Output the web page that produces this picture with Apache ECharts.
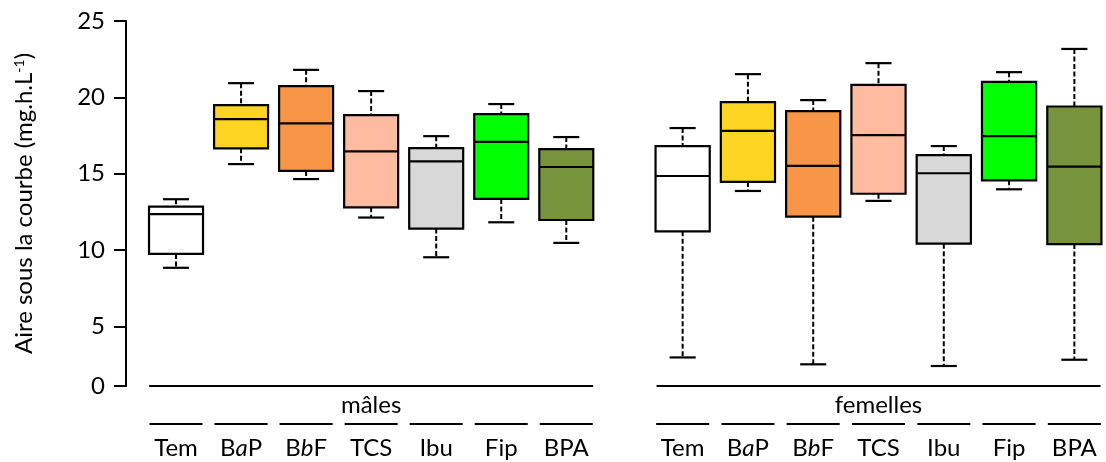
<!DOCTYPE html>
<html>
<head>
<meta charset="utf-8">
<script src="https://cdn.jsdelivr.net/npm/echarts@6/dist/echarts.min.js"></script>
<style>
html,body{margin:0;padding:0;background:#fff;}
#chart{width:1106px;height:462px;}
</style>
</head>
<body>
<div id="chart"></div>
<script>
// ---- data ----
const categories = ['Tem', 'BaP', 'BbF', 'TCS', 'Ibu', 'Fip', 'BPA'];
const groups = ['mâles', 'femelles'];
// [low whisker, Q1, median, Q3, high whisker]
const males = [
  [8.84, 9.75, 12.35, 12.84, 13.33],
  [15.63, 16.66, 18.58, 19.49, 20.93],
  [14.65, 15.18, 18.29, 20.73, 21.80],
  [12.13, 12.80, 16.46, 18.84, 20.41],
  [9.53, 11.41, 15.81, 16.68, 17.46],
  [11.82, 13.35, 17.09, 18.90, 19.56],
  [10.47, 11.97, 15.44, 16.61, 17.40]
];
const females = [
  [2.97, 11.23, 14.85, 16.81, 17.99],
  [13.87, 14.46, 17.81, 19.69, 21.52],
  [2.52, 12.19, 15.52, 19.10, 19.82],
  [13.22, 13.69, 17.53, 20.82, 22.24],
  [2.41, 10.42, 15.03, 16.22, 16.81],
  [13.98, 14.57, 17.46, 21.01, 21.65],
  [2.82, 10.39, 15.46, 19.40, 23.17]
];
const colors = ['#FFFFFF', '#FCD422', '#F79646', '#FFBBA0', '#D8D8D8', '#00FF00', '#77933C'];
const yTickValues = [1.1, 5, 10, 15, 20, 25];
const yTickLabels = ['0', '5', '10', '15', '20', '25'];
const Y_MIN = 1.1, Y_MAX = 25;

const FONT = 'Lato';
const FS = 24;

function catLabel(name) {
  let lab;
  if (name === 'BaP') lab = '{lab|B}{labi|a}{lab|P}';
  else if (name === 'BbF') lab = '{lab|B}{labi|b}{lab|F}';
  else lab = '{lab|' + name + '}';
  return '{ln|}\n' + lab;
}

function renderBox(params, api) {
  const x = api.value(0);
  const lo = api.value(1), q1 = api.value(2), med = api.value(3), q3 = api.value(4), hi = api.value(5);
  const band = api.size([1, 0])[0];
  const bw = band * 0.83, cw = band * 0.40;
  const pLo = api.coord([x, lo]), pQ1 = api.coord([x, q1]), pMed = api.coord([x, med]),
        pQ3 = api.coord([x, q3]), pHi = api.coord([x, hi]);
  const cx = pMed[0];
  const col = colors[params.dataIndex];
  const solid = {stroke: '#000', lineWidth: 2.2};
  const dashed = {stroke: '#000', lineWidth: 2, lineDash: [5, 2.5]};
  return {
    type: 'group',
    children: [
      {type: 'line', shape: {x1: cx, y1: pHi[1], x2: cx, y2: pQ3[1]}, style: dashed},
      {type: 'line', shape: {x1: cx, y1: pQ1[1], x2: cx, y2: pLo[1]}, style: dashed},
      {type: 'line', shape: {x1: cx - cw / 2, y1: pHi[1], x2: cx + cw / 2, y2: pHi[1]}, style: solid},
      {type: 'line', shape: {x1: cx - cw / 2, y1: pLo[1], x2: cx + cw / 2, y2: pLo[1]}, style: solid},
      {type: 'rect', shape: {x: cx - bw / 2, y: pQ3[1], width: bw, height: pQ1[1] - pQ3[1]},
        style: {fill: col, stroke: '#000', lineWidth: 2.2}},
      {type: 'line', shape: {x1: cx - bw / 2, y1: pMed[1], x2: cx + bw / 2, y2: pMed[1]}, style: solid}
    ]
  };
}

function makeXAxis(gi, groupName) {
  return {
    type: 'category',
    gridIndex: gi,
    data: categories,
    boundaryGap: true,
    axisLine: {show: false},
    axisTick: {show: false},
    splitLine: {show: false},
    axisLabel: {
      interval: 0,
      margin: 37,
      hideOverlap: false,
      formatter: catLabel,
      color: '#000',
      rich: {
        ln: {width: 53, height: 2, backgroundColor: '#000', lineHeight: 2},
        lab: {fontFamily: FONT, fontSize: FS, color: '#000', lineHeight: 46},
        labi: {fontFamily: FONT, fontSize: FS, fontStyle: 'italic', color: '#000', lineHeight: 46}
      }
    },
    name: '{gl|}\n{gn|' + groupName + '}',
    nameLocation: 'middle',
    nameGap: -1,
    nameMoveOverlap: false,
    nameTextStyle: {
      rich: {
        gl: {width: 444, height: 2, backgroundColor: '#000', lineHeight: 2},
        gn: {fontFamily: FONT, fontSize: FS, color: '#000', lineHeight: 36}
      }
    }
  };
}

function makeData(arr) {
  return arr.map((d, i) => [i, d[0], d[1], d[2], d[3], d[4]]);
}

const option = {
  backgroundColor: '#fff',
  animation: false,
  grid: [
    {left: 143.5, width: 455.3, top: 21, bottom: 76, outerBoundsMode: 'none', containLabel: false},
    {left: 650, width: 457, top: 21, bottom: 76, outerBoundsMode: 'none', containLabel: false}
  ],
  xAxis: [makeXAxis(0, groups[0]), makeXAxis(1, groups[1])],
  yAxis: [
    {
      type: 'value', gridIndex: 0, min: Y_MIN, max: Y_MAX, offset: 17.5,
      axisLine: {show: true, lineStyle: {color: '#000', width: 2}},
      axisTick: {show: true, length: 12, lineStyle: {color: '#000', width: 2}, customValues: yTickValues},
      axisLabel: {
        customValues: yTickValues, margin: 21, color: '#000', fontFamily: FONT, fontSize: FS,
        formatter: function (v) {
          const i = yTickValues.findIndex(t => Math.abs(t - v) < 1e-6);
          return i >= 0 ? yTickLabels[i] : '';
        }
      },
      splitLine: {show: false},
      name: 'Aire sous la courbe (mg.h.L{sup|-1})',
      nameLocation: 'middle',
      nameGap: 90,
      nameMoveOverlap: false,
      nameTextStyle: {
        fontFamily: FONT, fontSize: FS, color: '#000',
        rich: {sup: {fontFamily: FONT, fontSize: 14, color: '#000', verticalAlign: 'top', padding: [0, 0, 10, 0]}}
      }
    },
    {
      type: 'value', gridIndex: 1, min: Y_MIN, max: Y_MAX, show: false,
      splitLine: {show: false}
    }
  ],
  series: [
    {type: 'custom', xAxisIndex: 0, yAxisIndex: 0, renderItem: renderBox, data: makeData(males),
      encode: {x: 0, y: [1, 2, 3, 4, 5]}},
    {type: 'custom', xAxisIndex: 1, yAxisIndex: 1, renderItem: renderBox, data: makeData(females),
      encode: {x: 0, y: [1, 2, 3, 4, 5]}}
  ]
};

const chart = echarts.init(document.getElementById('chart'), null, {renderer: 'canvas'});
chart.setOption(option);
</script>
</body>
</html>
